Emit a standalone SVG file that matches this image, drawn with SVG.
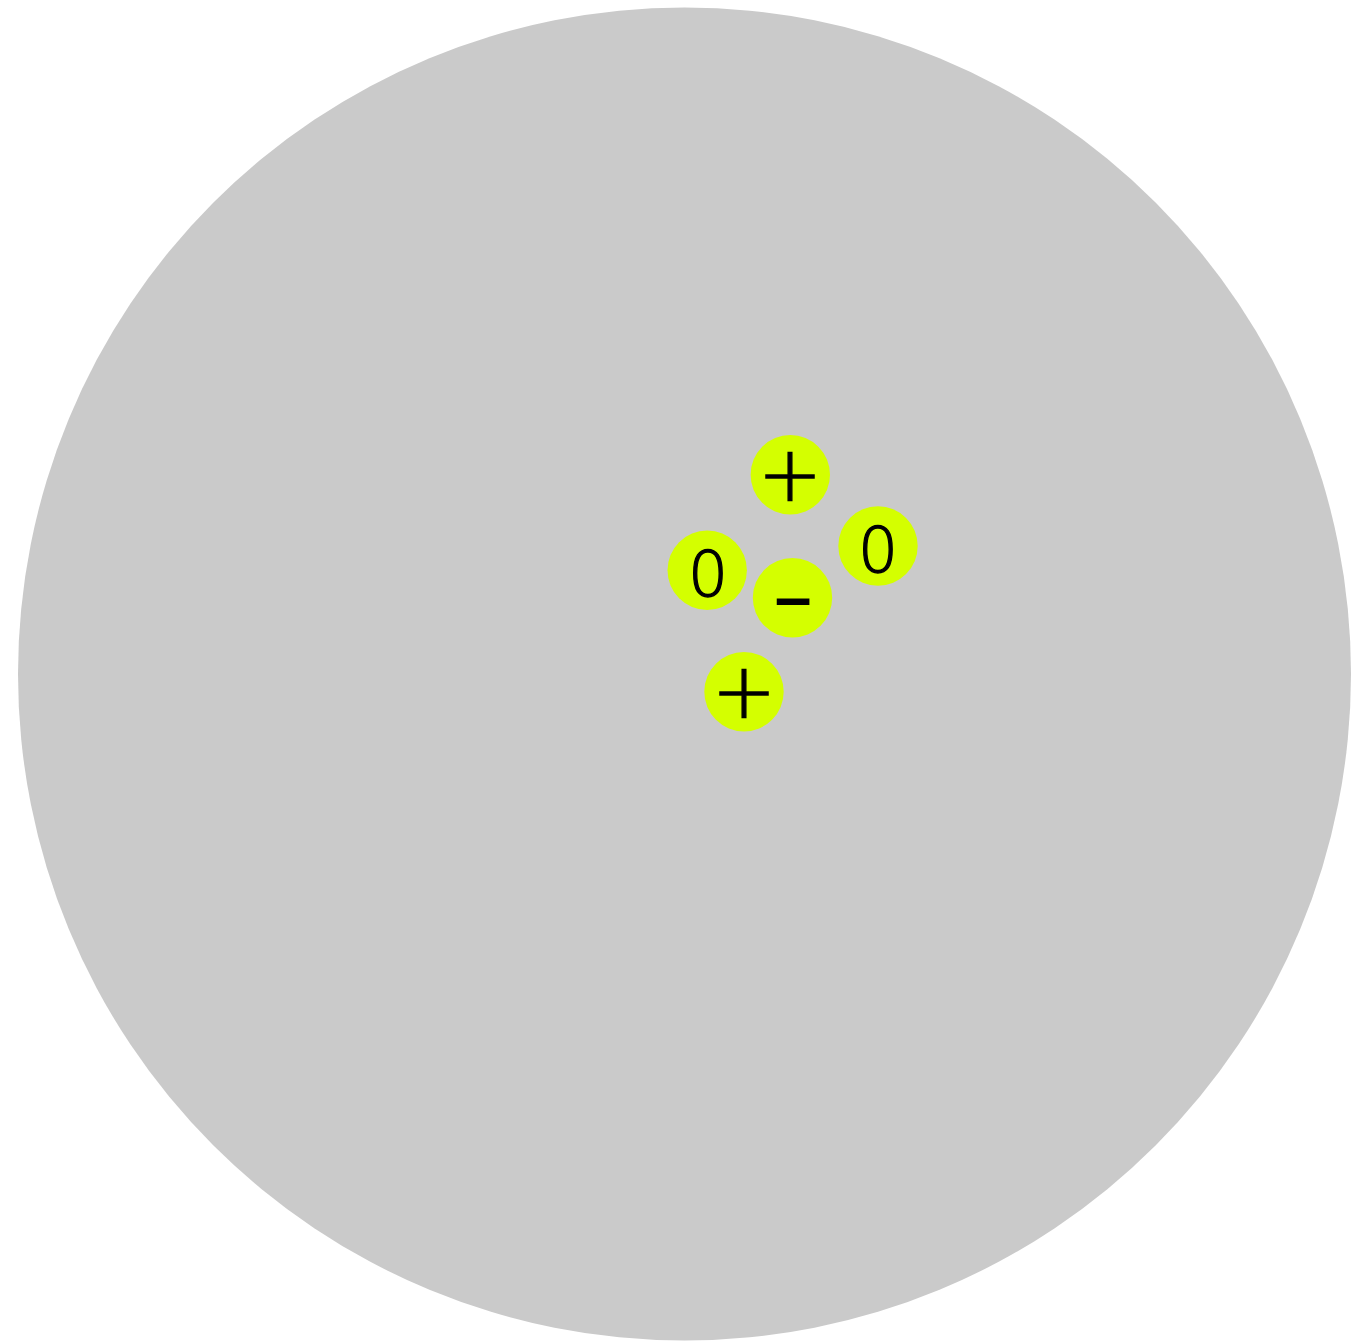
<svg xmlns="http://www.w3.org/2000/svg" width="1367" height="1341" viewBox="0 0 1367 1341">
<style>
.p{fill:#d4ff00}
.t{font-family:"DejaVu Sans",sans-serif;font-weight:200;fill:#000;stroke:#000;stroke-width:1.3px;text-anchor:middle}
.z{font-size:63px}
.pl{font-size:77px}
.m{font-family:"Liberation Sans",Arial,sans-serif;font-size:66px;font-weight:bold;fill:#000;text-anchor:middle}
</style>
<rect width="1367" height="1341" fill="#fff"/>
<g id="nucleus"><circle cx="684.5" cy="674" r="666.5" fill="#cacaca"/></g>
<g id="p1"><circle class="p" cx="790.3" cy="474.7" r="39.7"/><text class="t pl" x="790" y="501">+</text></g>
<g id="n1"><circle class="p" cx="707.2" cy="570.2" r="39.7"/><text class="t z" x="708" y="595.5">0</text></g>
<g id="n2"><circle class="p" cx="878" cy="546" r="39.7"/><text class="t z" x="878" y="571.5">0</text></g>
<g id="e1"><circle class="p" cx="792.5" cy="597.8" r="39.7"/><text class="m" x="793" y="620">–</text></g>
<g id="p2"><circle class="p" cx="744" cy="691.7" r="39.7"/><text class="t pl" x="744" y="717.5">+</text></g>
<g id="connectors"/>
</svg>
